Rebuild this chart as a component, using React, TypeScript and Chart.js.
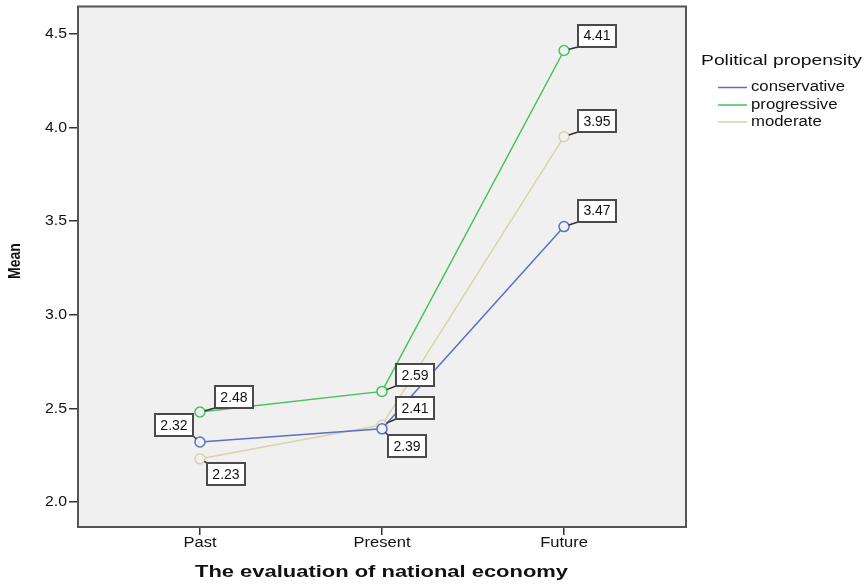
import React, { useEffect, useRef } from "react";
import { Chart, registerables } from "chart.js";
Chart.register(...registerables);

const categories = ["Past", "Present", "Future"];
const seriesNames = ["conservative", "progressive", "moderate"];
const conservative = [2.32, 2.39, 3.47];
const progressive = [2.48, 2.59, 4.41];
const moderate = [2.23, 2.41, 3.95];
const yTicks = [2.0, 2.5, 3.0, 3.5, 4.0, 4.5];

const seriesValues = [conservative, progressive, moderate];
const colors = ["#5b70c6", "#45c25c", "#d9d4a8"];
// label box centre offset from the point, in px
const labelOffsets = [
  [[-26, -17], [25, 17], [33, -16]],
  [[34, -15], [33, -16], [33, -15]],
  [[26, 15], [33, -17], [33, -16]],
];

const FONT = "'Liberation Sans', Arial, sans-serif";

function drawStretched(
  ctx: CanvasRenderingContext2D,
  text: string,
  x: number,
  y: number,
  font: string,
  sx: number,
  align: "left" | "center" | "right"
) {
  ctx.save();
  ctx.font = font;
  ctx.textAlign = align;
  ctx.textBaseline = "middle";
  ctx.translate(x, y);
  ctx.scale(sx, 1);
  ctx.fillText(text, 0, 0);
  ctx.restore();
}

function widthScale(ctx: CanvasRenderingContext2D, text: string, font: string, target: number) {
  ctx.save();
  ctx.font = font;
  const w = ctx.measureText(text).width;
  ctx.restore();
  return target / w;
}

const customPlugin = {
  id: "spss",
  beforeDraw(chart: any) {
    const { ctx, chartArea: a } = chart;
    ctx.save();
    ctx.fillStyle = "#f0f0f0";
    ctx.fillRect(a.left, a.top, a.right - a.left, a.bottom - a.top);
    ctx.restore();
  },
  afterDatasetsDraw(chart: any) {
    const { ctx, chartArea: a } = chart;
    ctx.save();
    ctx.strokeStyle = "#555";
    ctx.lineWidth = 2;
    ctx.strokeRect(a.left, a.top, a.right - a.left, a.bottom - a.top);
    ctx.font = `14px ${FONT}`;
    ctx.textAlign = "center";
    ctx.textBaseline = "middle";
    chart.data.datasets.forEach((ds: any, di: number) => {
      const meta = chart.getDatasetMeta(di);
      meta.data.forEach((pt: any, i: number) => {
        const [dx, dy] = labelOffsets[di][i];
        const cx = pt.x + dx;
        const cy = pt.y + dy;
        const text = seriesValues[di][i].toFixed(2);
        const w = 38;
        const h = 22;
        const l = Math.round(cx - w / 2);
        const t = Math.round(cy - h / 2);
        const corners = [
          [l, t], [l + w, t], [l, t + h], [l + w, t + h],
        ];
        let best = corners[0];
        let bd = 1e9;
        corners.forEach((c) => {
          const d = (c[0] - pt.x) ** 2 + (c[1] - pt.y) ** 2;
          if (d < bd) { bd = d; best = c; }
        });
        const len = Math.sqrt(bd);
        const sx = pt.x + ((best[0] - pt.x) / len) * 5;
        const sy = pt.y + ((best[1] - pt.y) / len) * 5;
        ctx.strokeStyle = "#333";
        ctx.lineWidth = 1.5;
        ctx.beginPath();
        ctx.moveTo(sx, sy);
        ctx.lineTo(best[0], best[1]);
        ctx.stroke();
        ctx.fillStyle = "#ffffff";
        ctx.fillRect(l, t, w, h);
        ctx.strokeStyle = "#4a4a4a";
        ctx.lineWidth = 2;
        ctx.strokeRect(l, t, w, h);
        ctx.fillStyle = "#111";
        ctx.fillText(text, cx, cy + 1);
      });
    });
    ctx.restore();
  },
  afterDraw(chart: any) {
    const { ctx, chartArea: a, scales } = chart;
    ctx.save();
    ctx.fillStyle = "#111";
    // tick labels
    const tf = `14px ${FONT}`;
    yTicks.forEach((v) => {
      drawStretched(ctx, v.toFixed(1), 67, scales.y.getPixelForValue(v) + 0.5, tf, 1.13, "right");
    });
    categories.forEach((c, i) => {
      drawStretched(ctx, c, scales.x.getPixelForValue(i), 543, tf, 1.18, "center");
    });
    // x title
    const xf = `bold 16px ${FONT}`;
    const xt = "The evaluation of national economy";
    drawStretched(ctx, xt, 381.5, 573, xf, widthScale(ctx, xt, xf, 373), "center");
    // y title
    ctx.save();
    ctx.translate(15, 261);
    ctx.rotate(-Math.PI / 2);
    ctx.scale(1, 1.2);
    ctx.font = `bold 14px ${FONT}`;
    ctx.textAlign = "center";
    ctx.textBaseline = "middle";
    ctx.fillText("Mean", 0, 0);
    ctx.restore();
    // legend
    const lt = "Political propensity";
    const ltf = `15px ${FONT}`;
    drawStretched(ctx, lt, 701, 61, ltf, widthScale(ctx, lt, ltf, 161), "left");
    const lif = `14px ${FONT}`;
    const lis = widthScale(ctx, seriesNames[0], lif, 94);
    const rows = [87.5, 105, 122];
    seriesNames.forEach((n, i) => {
      const y = rows[i];
      ctx.strokeStyle = colors[i];
      ctx.lineWidth = 1.5;
      ctx.beginPath();
      ctx.moveTo(718, y);
      ctx.lineTo(747, y);
      ctx.stroke();
      ctx.fillStyle = "#111";
      drawStretched(ctx, n, 751, y, lif, lis, "left");
    });
    ctx.restore();
  },
};

export default function App() {
  const ref = useRef<HTMLCanvasElement>(null);
  useEffect(() => {
    document.body.style.margin = "0";
    const chart = new Chart(ref.current as HTMLCanvasElement, {
      type: "line",
      data: {
        datasets: seriesValues.map((vals, di) => ({
          label: seriesNames[di],
          data: vals.map((v, i) => ({ x: i, y: v })),
          borderColor: colors[di],
          backgroundColor: colors[di],
          borderWidth: 1.5,
          pointRadius: 5,
          pointBorderWidth: 1.5,
          pointBorderColor: colors[di],
          pointBackgroundColor: "#f0f0f0",
          tension: 0,
        })),
      },
      options: {
        responsive: false,
        animation: false,
        layout: { padding: { top: 6, right: 180, left: 0, bottom: 0 } },
        plugins: {
          legend: { display: false },
          tooltip: { enabled: false },
        },
        scales: {
          x: {
            type: "linear",
            min: -0.67,
            max: 2.67,
            afterBuildTicks: (s: any) => {
              s.ticks = categories.map((_, i) => ({ value: i }));
            },
            afterFit: (s: any) => {
              s.height = 58;
              s.paddingLeft = 0;
              s.paddingRight = 0;
            },
            border: { display: false },
            grid: {
              drawOnChartArea: false,
              drawTicks: true,
              tickLength: 8,
              color: "#333",
              lineWidth: 1.5,
            },
            ticks: {
              padding: 3,
              color: "rgba(0,0,0,0)",
              font: { size: 14, family: FONT },
              maxRotation: 0,
              callback: (v: any) => categories[v] ?? "",
            },
          },
          y: {
            type: "linear",
            min: 1.866,
            max: 4.645,
            afterBuildTicks: (s: any) => {
              s.ticks = yTicks.map((v) => ({ value: v }));
            },
            afterFit: (s: any) => {
              s.width = 78;
              s.paddingTop = 0;
              s.paddingBottom = 0;
            },
            border: { display: false },
            grid: {
              drawOnChartArea: false,
              drawTicks: true,
              tickLength: 9,
              color: "#333",
              lineWidth: 1.5,
            },
            ticks: {
              padding: 2,
              color: "rgba(0,0,0,0)",
              font: { size: 14, family: FONT },
              callback: (v: any) => Number(v).toFixed(1),
            },
          },
        },
      },
      plugins: [customPlugin],
    } as any);
    return () => chart.destroy();
  }, []);
  return (
    <div style={{ position: "absolute", left: 0, top: 0, width: 866, height: 585, background: "#fff" }}>
      <canvas ref={ref} width={866} height={585} style={{ display: "block" }} />
    </div>
  );
}
